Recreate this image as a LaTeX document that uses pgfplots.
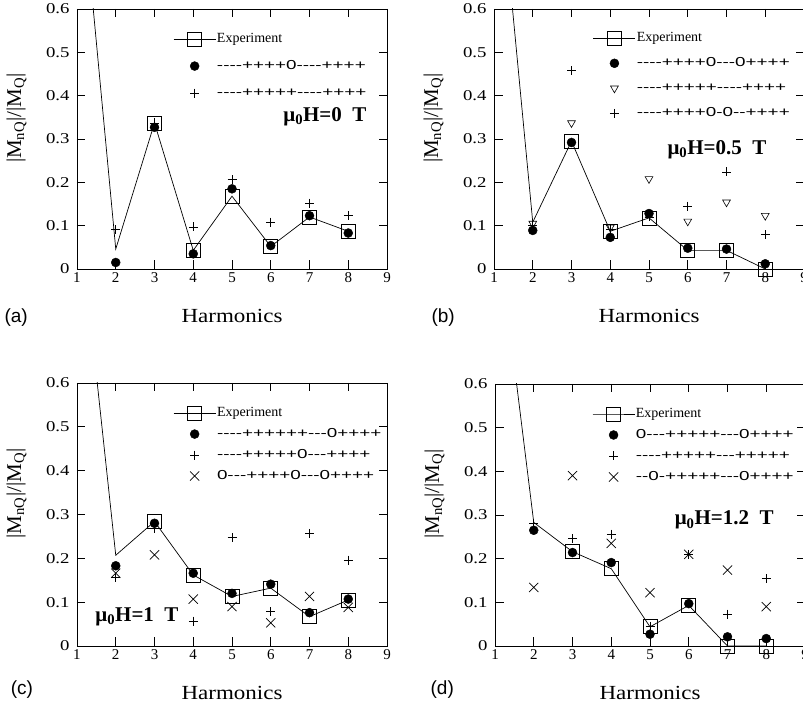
\documentclass[border=0pt]{standalone}
\usepackage{pgfplots}
\pgfplotsset{compat=1.18}
\usepackage{fontspec}
\setmainfont{Liberation Serif}
\newfontfamily\seqfont[FakeStretch=1.45,Ligatures=TeXOff]{Liberation Sans}
\newfontfamily\widefont[FakeStretch=1.15]{Liberation Serif}
\newfontfamily\tickfont[FakeStretch=1.25]{Liberation Serif}
\newfontfamily\lblfont{Liberation Sans}
\newcommand\fs[1]{\fontsize{#1}{#1}\selectfont}
\newcommand\yt[1]{{\tickfont\fs{15}#1}}
\pgfplotsset{
  panel/.style={
    width=310pt, height=260pt, scale only axis, anchor=south west,
    xmin=1, xmax=9, ymin=0, ymax=0.6,
    xtick={1,2,...,9}, ytick={0,0.1,0.2,0.3,0.4,0.5,0.6},
    yticklabels={\yt{0},\yt{0.1},\yt{0.2},\yt{0.3},\yt{0.4},\yt{0.5},\yt{0.6}},
    tick align=inside, major tick length=8.5pt,
    axis line style={line width=0.9pt},
    every tick/.style={black, line width=0.8pt},
    tick label style={font=\fs{15}, /pgf/number format/assume math mode=true},
    every y tick label/.append style={xshift=-4pt},
    xlabel={Harmonics},
    xlabel style={font=\widefont\fs{20}, at={(axis description cs:0.5,-0.18)}, anchor=center},
    ylabel={|M\textsubscript{nQ}|/|M\textsubscript{Q}|},
    ylabel style={font=\fs{21}, at={(axis description cs:-0.195,0.58)}, anchor=center},
    clip mode=individual,
    legend cell align=left,
    legend image code/.code={\draw[##1, mark indices={2}] plot coordinates {(0pt,0pt) (21pt,0pt) (42pt,0pt)};},
    legend style={draw=none, fill=none, inner sep=0pt, column sep=0pt, anchor=north west,
       nodes={inner sep=1pt, text height=9.5pt, text depth=2.5pt}},
  },
  expt/.style={black, line width=0.7pt, mark=square, mark size=7pt, mark indices={2,3,4,5,6,7,8}, mark options={line width=0.7pt}},
  dots/.style={only marks, mark=*, mark size=4.5pt, black},
  pluses/.style={only marks, mark=+, mark size=4.5pt, black, mark options={line width=0.7pt}},
  crosses/.style={only marks, mark=x, mark size=6.5pt, black, mark options={line width=0.7pt}},
  tris/.style={only marks, mark=triangle, mark size=4.5pt, black, mark options={rotate=180, line width=0.6pt}},
}
\newcommand\expt{\fs{14}Experiment}
\newcommand\sq[1]{\seqfont\fs{13}#1}
\begin{document}
\begin{tikzpicture}[x=1pt,y=1pt]
% (a)
\begin{axis}[panel, at={(77pt,439pt)},
  legend style={at={(rel axis cs:0.31,0.912)}, row sep=13pt}]
\addplot[expt] coordinates {(1,1.0)(2,0.046)(3,0.337)(4,0.043)(5,0.168)(6,0.052)(7,0.12)(8,0.087)};
\addlegendentry{\expt}
\addplot[dots] coordinates {(2,0.015)(3,0.327)(4,0.035)(5,0.185)(6,0.054)(7,0.123)(8,0.083)};
\addlegendentry{\sq{----++++0----++++}}
\addplot[pluses] coordinates {(2,0.091)(3,0.337)(4,0.097)(5,0.206)(6,0.108)(7,0.152)(8,0.123)};
\addlegendentry{\sq{----+++++----++++}}
\node[anchor=east, font=\fs{21}\bfseries] at (rel axis cs:0.945,0.585) {μ\textsubscript{0}H=0\hspace{0.5em}T};
\node[anchor=west, font=\lblfont\fs{19}] at (rel axis cs:-0.245,-0.185) {(a)};
\end{axis}
% (b)
\begin{axis}[panel, at={(494pt,439pt)},
  legend style={at={(rel axis cs:0.319,0.915)}, row sep=11pt}]
\addplot[expt] coordinates {(1,1.05)(2,0.108)(3,0.295)(4,0.087)(5,0.118)(6,0.043)(7,0.043)(8,0.0)};
\addlegendentry{\expt}
\addplot[dots] coordinates {(2,0.089)(3,0.292)(4,0.073)(5,0.128)(6,0.048)(7,0.046)(8,0.012)};
\addlegendentry{\sq{----++++0---0++++}}
\addplot[tris] coordinates {(2,0.105)(3,0.337)(4,0.096)(5,0.208)(6,0.11)(7,0.154)(8,0.123)};
\addlegendentry{\sq{----+++++----++++}}
\addplot[pluses] coordinates {(2,0.1)(3,0.458)(4,0.092)(5,0.12)(6,0.145)(7,0.224)(8,0.079)};
\addlegendentry{\sq{----++++0-0--++++}}
\node[anchor=east, font=\fs{21}\bfseries] at (rel axis cs:0.89,0.458) {μ\textsubscript{0}H=0.5\hspace{0.5em}T};
\node[anchor=west, font=\lblfont\fs{19}] at (rel axis cs:-0.213,-0.185) {(b)};
\end{axis}
% (c)
\begin{axis}[panel, at={(77pt,62pt)}, height=263pt,
  legend style={at={(rel axis cs:0.31,0.913)}, row sep=7pt}]
\addplot[expt] coordinates {(1,1.03)(2,0.207)(3,0.284)(4,0.162)(5,0.113)(6,0.132)(7,0.067)(8,0.105)};
\addlegendentry{\expt}
\addplot[dots] coordinates {(2,0.183)(3,0.28)(4,0.166)(5,0.12)(6,0.141)(7,0.076)(8,0.107)};
\addlegendentry{\sq{----++++++---0++++}}
\addplot[pluses] coordinates {(2,0.157)(3,0.269)(4,0.057)(5,0.248)(6,0.078)(7,0.257)(8,0.196)};
\addlegendentry{\sq{----+++++0---++++}}
\addplot[crosses] coordinates {(2,0.166)(3,0.208)(4,0.107)(5,0.09)(6,0.053)(7,0.113)(8,0.088)};
\addlegendentry{\sq{0---++++0---0++++}}
\node[anchor=west, font=\fs{21}\bfseries] at (rel axis cs:0.048,0.11) {μ\textsubscript{0}H=1\hspace{0.5em}T};
\node[anchor=west, font=\lblfont\fs{19}] at (rel axis cs:-0.225,-0.167) {(c)};
\end{axis}
% (d)
\begin{axis}[panel, at={(495pt,62pt)}, height=262pt,
  legend style={at={(rel axis cs:0.313,0.913)}, row sep=7pt}]
\addplot[expt] coordinates {(1,1.0)(2,0.283)(3,0.216)(4,0.177)(5,0.044)(6,0.093)(7,0)(8,0)};
\addlegendentry{\expt}
\addplot[dots] coordinates {(2,0.265)(3,0.214)(4,0.191)(5,0.027)(6,0.097)(7,0.021)(8,0.017)};
\addlegendentry{\sq{0---+++++---0++++}}
\addplot[pluses] coordinates {(2,0.28)(3,0.246)(4,0.256)(5,0.045)(6,0.21)(7,0.073)(8,0.154)};
\addlegendentry{\sq{----+++++---+++++}}
\addplot[crosses] coordinates {(2,0.134)(3,0.39)(4,0.235)(5,0.122)(6,0.21)(7,0.174)(8,0.09)};
\addlegendentry{\sq{--0-+++++---0++++}}
\node[anchor=east, font=\fs{21}\bfseries] at (rel axis cs:0.91,0.48) {μ\textsubscript{0}H=1.2\hspace{0.5em}T};
\node[anchor=west, font=\lblfont\fs{19}] at (rel axis cs:-0.219,-0.167) {(d)};
\end{axis}
\pgfresetboundingbox
\path[use as bounding box] (0pt,0pt) rectangle (803pt,708pt);
\end{tikzpicture}
\end{document}
